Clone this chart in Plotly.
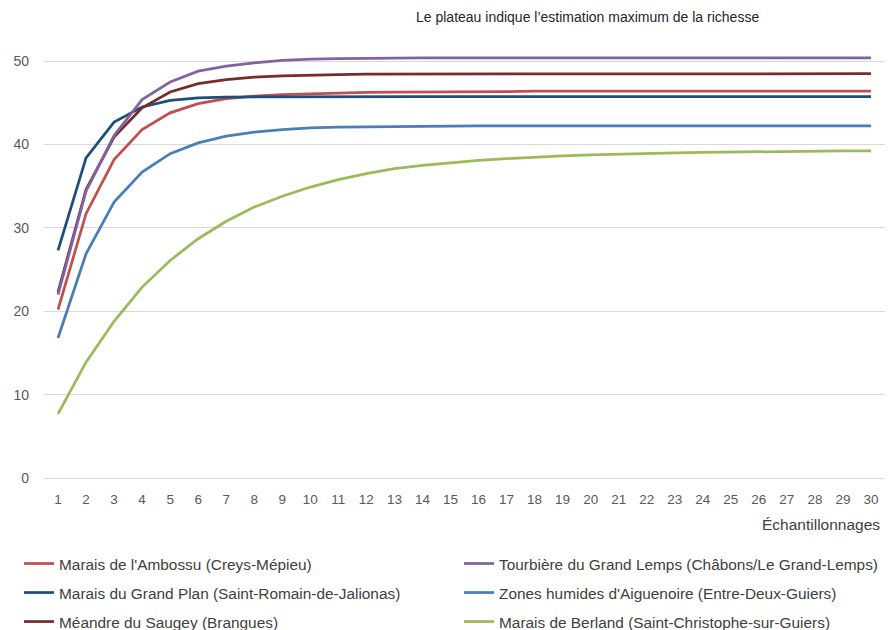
import plotly.graph_objects as go

samples = list(range(1, 31))

ambossu = [20.2, 31.7, 38.2, 41.8, 43.8, 44.9, 45.5, 45.8, 46.0, 46.1, 46.2, 46.25, 46.3, 46.3, 46.35,
           46.35, 46.35, 46.4, 46.4, 46.4, 46.4, 46.4, 46.4, 46.4, 46.4, 46.4, 46.4, 46.4, 46.4, 46.4]
grand_plan = [27.3, 38.4, 42.7, 44.5, 45.3, 45.6, 45.7, 45.72, 45.74, 45.75, 45.75, 45.75, 45.75, 45.75, 45.75,
              45.75, 45.75, 45.75, 45.75, 45.75, 45.75, 45.75, 45.75, 45.75, 45.75, 45.75, 45.75, 45.75, 45.75, 45.75]
saugey = [22.3, 34.6, 40.9, 44.4, 46.3, 47.3, 47.8, 48.1, 48.25, 48.35, 48.4, 48.45, 48.45, 48.5, 48.5,
          48.5, 48.5, 48.5, 48.5, 48.5, 48.5, 48.5, 48.5, 48.5, 48.5, 48.5, 48.5, 48.5, 48.5, 48.5]
tourbiere = [22.0, 34.4, 41.1, 45.4, 47.5, 48.8, 49.4, 49.8, 50.1, 50.25, 50.3, 50.35, 50.4, 50.4, 50.4,
             50.4, 50.4, 50.4, 50.4, 50.4, 50.4, 50.4, 50.4, 50.4, 50.4, 50.4, 50.4, 50.4, 50.4, 50.4]
aiguenoire = [16.8, 26.9, 33.1, 36.7, 38.9, 40.2, 41.0, 41.5, 41.8, 42.0, 42.1, 42.15, 42.2, 42.2, 42.22,
              42.23, 42.24, 42.25, 42.25, 42.25, 42.25, 42.25, 42.25, 42.25, 42.25, 42.25, 42.25, 42.25, 42.25, 42.25]
berland = [7.7, 13.9, 18.8, 22.9, 26.1, 28.7, 30.8, 32.5, 33.8, 34.9, 35.8, 36.5, 37.1, 37.5, 37.8,
           38.1, 38.3, 38.5, 38.65, 38.75, 38.85, 38.95, 39.0, 39.05, 39.1, 39.15, 39.2, 39.2, 39.25, 39.25]

series = [
    ("Marais de l'Ambossu (Creys-Mépieu)", ambossu, "#c0504d", "legend"),
    ("Marais du Grand Plan (Saint-Romain-de-Jalionas)", grand_plan, "#1f4e79", "legend"),
    ("Méandre du Saugey (Brangues)", saugey, "#772c2a", "legend"),
    ("Tourbière du Grand Lemps (Châbons/Le Grand-Lemps)", tourbiere, "#8064a2", "legend2"),
    ("Zones humides d'Aiguenoire (Entre-Deux-Guiers)", aiguenoire, "#4a7ebb", "legend2"),
    ("Marais de Berland (Saint-Christophe-sur-Guiers)", berland, "#9bbb59", "legend2"),
]

FONT = "Liberation Sans, Arial, sans-serif"
W, H = 885, 622  # page has an 8px body margin

fig = go.Figure()
for name, vals, color, leg in series:
    fig.add_trace(go.Scatter(
        x=samples, y=vals, mode="lines", name=name,
        line=dict(color=color, width=2.75),
        legend=leg, legendgroup=name,
    ))

legend_common = dict(
    orientation="v", xref="container", yref="container",
    xanchor="left", yanchor="top",
    font=dict(family=FONT, size=15.4, color="#404040"),
    bgcolor="rgba(0,0,0,0)", tracegroupgap=6, itemwidth=30,
)

legend_top = 1 - 539 / H

fig.update_layout(
    width=W, height=H,
    margin=dict(l=36, r=8, t=24, b=152, autoexpand=False),
    paper_bgcolor="white", plot_bgcolor="white",
    font=dict(family=FONT, color="#595959"),
    showlegend=True,
    legend=dict(x=11 / W, y=legend_top, **legend_common),
    legend2=dict(x=451 / W, y=legend_top, **legend_common),
    xaxis=dict(
        range=[0.5, 30.5], tickmode="array", tickvals=samples,
        ticktext=[str(s) for s in samples],
        showgrid=False, zeroline=False, showline=False, ticks="",
        ticklabelstandoff=11,
        tickfont=dict(family=FONT, size=13.5, color="#595959"),
    ),
    yaxis=dict(
        range=[0, 53.5], tickmode="array", tickvals=[0, 10, 20, 30, 40, 50],
        showgrid=True, gridcolor="#d9d9d9", gridwidth=1,
        zeroline=True, zerolinecolor="#d9d9d9", zerolinewidth=1,
        showline=False, ticks="", ticklabelstandoff=14,
        tickfont=dict(family=FONT, size=14, color="#595959"),
    ),
    annotations=[
        dict(text="Le plateau indique l’estimation maximum de la richesse",
             xref="paper", yref="paper", x=(587 - 44) / 841, y=(478 - 17) / 446,
             xanchor="center", yanchor="middle", showarrow=False,
             font=dict(family=FONT, size=14, color="#262626")),
        dict(text="Échantillonnages", xref="paper", yref="paper",
             x=(882 - 44) / 841, y=(478 - 524) / 446, xanchor="right", yanchor="middle",
             showarrow=False, font=dict(family=FONT, size=15.5, color="#404040")),
    ],
)

fig.write_html("out.html")
